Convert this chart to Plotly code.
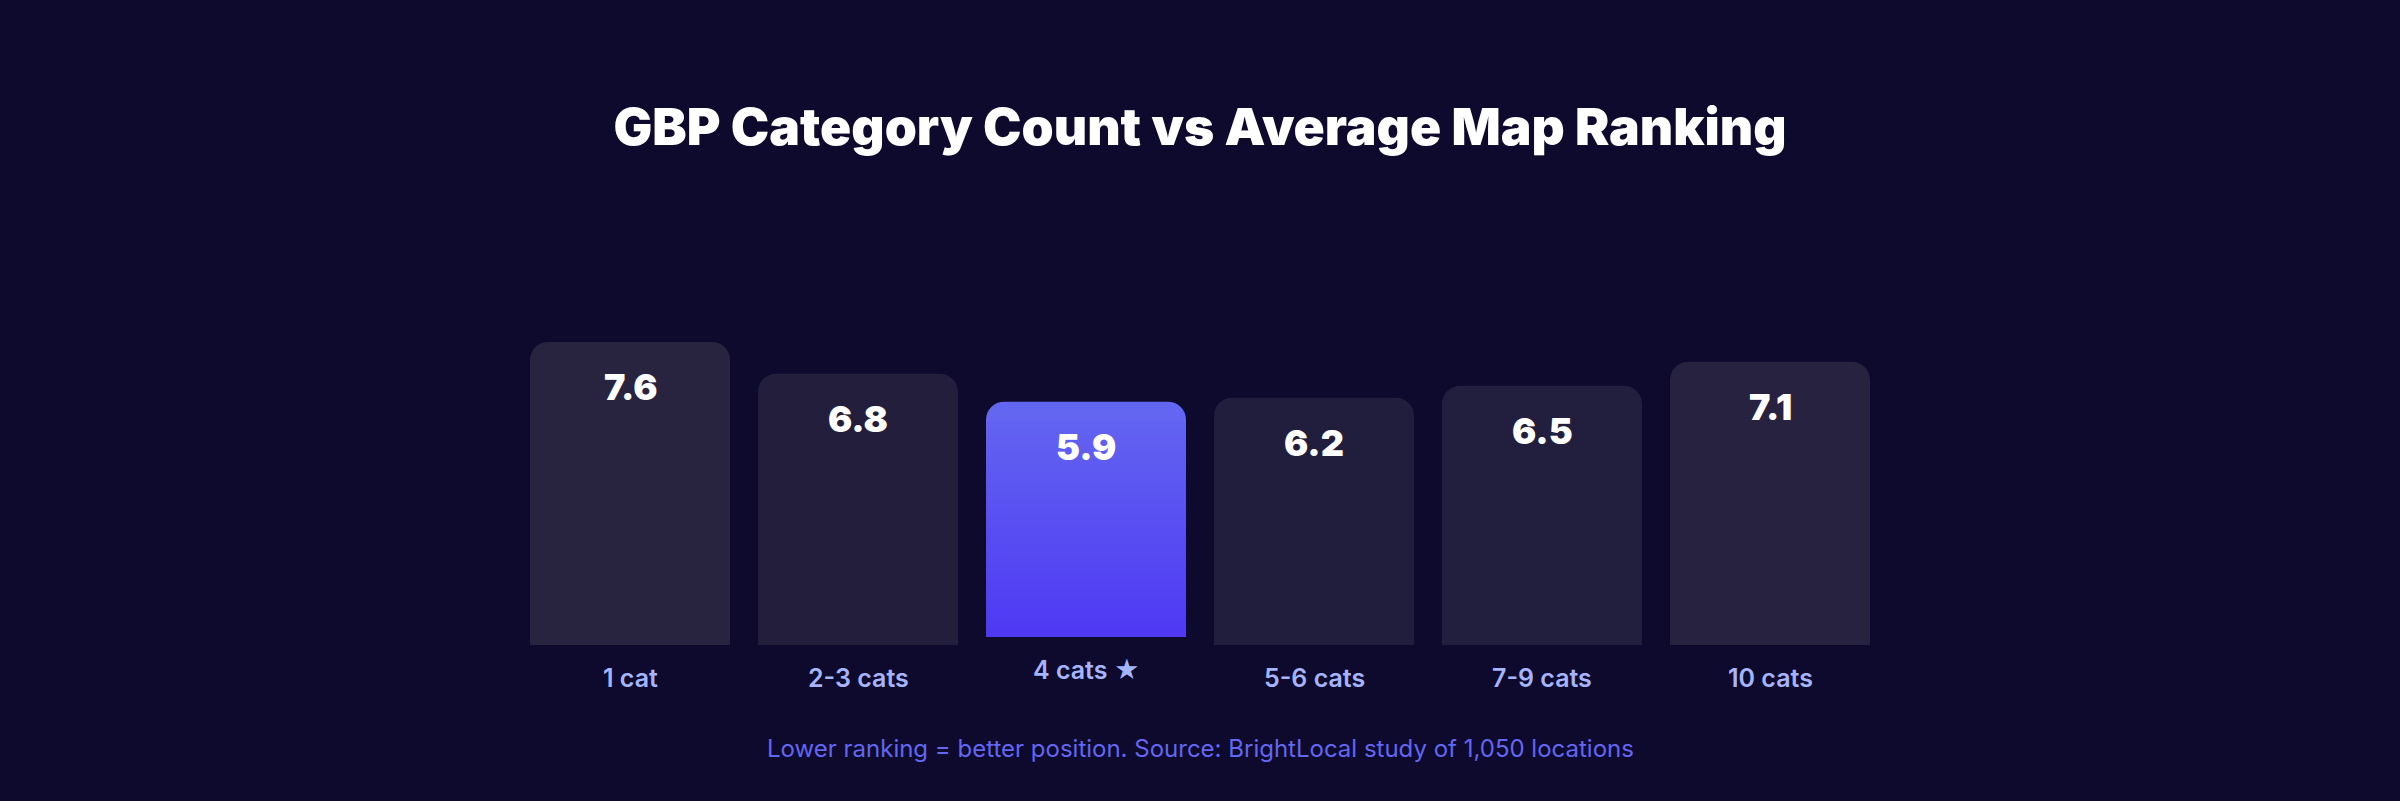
import plotly.graph_objects as go

# ---- data ----
categories = ["1 cat", "2-3 cats", "4 cats", "5-6 cats", "7-9 cats", "10 cats"]
avg_rank = [7.6, 6.8, 5.9, 6.2, 6.5, 7.1]
tick_labels = ["1 cat", "2-3 cats", "4 cats ★", "5-6 cats", "7-9 cats", "10 cats"]
highlight = "4 cats"

title_text = "GBP Category Count vs Average Map Ranking"
footer_text = "Lower ranking = better position. Source: BrightLocal study of 1,050 locations"

# ---- style ----
W, H = 2400, 801
BG = "#0e0a2d"
bar_colors = ["#28233f", "#221e3c", "#6366f1", "#211d3c", "#221e3d", "#27223f"]
GRAD_TOP = (99, 102, 241)
GRAD_BOT = (78, 56, 243)
LABEL_COLOR = "#a5b4fc"
FOOT_COLOR = "#6366f1"
RADIUS = 18

M_L, M_R, M_T, M_B = 516, 516, 306, 156
Y_MAX = 8.5
plot_h = H - M_T - M_B
px_per_unit = plot_h / Y_MAX
LIFT = 8 / px_per_unit  # highlighted bar lifted by 8px

bases = [LIFT if c == highlight else 0 for c in categories]

fig = go.Figure()

# normal bars
norm_x = [c for c in categories if c != highlight]
norm_y = [v for c, v in zip(categories, avg_rank) if c != highlight]
norm_col = [col for c, col in zip(categories, bar_colors) if c != highlight]
fig.add_trace(go.Bar(x=norm_x, y=norm_y,
                     marker=dict(color=norm_col, line=dict(width=0), cornerradius=RADIUS),
                     hoverinfo="skip", showlegend=False))

# highlighted bar with vertical gradient (layered)
hi_idx = categories.index(highlight)
hv = avg_rank[hi_idx]
fig.add_trace(go.Bar(x=[highlight], y=[hv], base=[LIFT],
                     marker=dict(color="rgb(%d,%d,%d)" % GRAD_TOP, line=dict(width=0),
                                 cornerradius=RADIUS),
                     hoverinfo="skip", showlegend=False))
bar_px = hv * px_per_unit
start_frac = 1 - (RADIUS + 2) / bar_px
steps = 30
for k in range(steps):
    frac = start_frac * (1 - k / steps)
    t = (1 - frac)
    r = round(GRAD_TOP[0] + (GRAD_BOT[0] - GRAD_TOP[0]) * t)
    g = round(GRAD_TOP[1] + (GRAD_BOT[1] - GRAD_TOP[1]) * t)
    b = round(GRAD_TOP[2] + (GRAD_BOT[2] - GRAD_TOP[2]) * t)
    fig.add_trace(go.Bar(x=[highlight], y=[hv * frac], base=[LIFT],
                         marker=dict(color=f"rgb({r},{g},{b})", line=dict(width=0),
                                     cornerradius=0),
                         hoverinfo="skip", showlegend=False))

annotations = []
for c, v, b, lab in zip(categories, avg_rank, bases, tick_labels):
    annotations.append(dict(x=c, y=v + b, xref="x", yref="y", text=f"{v:.1f}",
                            showarrow=False, yanchor="middle", yshift=-45,
                            font=dict(family="Inter", size=36, color="#ffffff", weight=900)))
    annotations.append(dict(x=c, y=b, xref="x", yref="y", text=lab,
                            showarrow=False, yanchor="middle", yshift=-33,
                            font=dict(family="Inter", size=25, color=LABEL_COLOR, weight=600)))

annotations.append(dict(x=0.5, y=-(748 - (H - M_B)) / plot_h, xref="paper", yref="paper",
                        text=footer_text, showarrow=False, yanchor="middle",
                        font=dict(family="Inter", size=24, color=FOOT_COLOR)))

fig.update_layout(
    width=W, height=H,
    paper_bgcolor=BG, plot_bgcolor=BG,
    margin=dict(l=M_L, r=M_R, t=M_T, b=M_B, pad=0),
    barmode="overlay", bargap=28 / 228,
    title=dict(text=title_text, x=0.5, xanchor="center", xref="paper",
               y=1 - 127 / H, yref="container", yanchor="middle",
               font=dict(family="Inter", size=51.5, color="#ffffff", weight=900)),
    xaxis=dict(categoryorder="array", categoryarray=categories, showticklabels=False,
               showgrid=False, zeroline=False, showline=False, fixedrange=True),
    yaxis=dict(range=[0, Y_MAX], showticklabels=False, showgrid=False, zeroline=False,
               showline=False, fixedrange=True),
    annotations=annotations,
    showlegend=False,
)

fig.write_html("out.html", config={"displayModeBar": False})
